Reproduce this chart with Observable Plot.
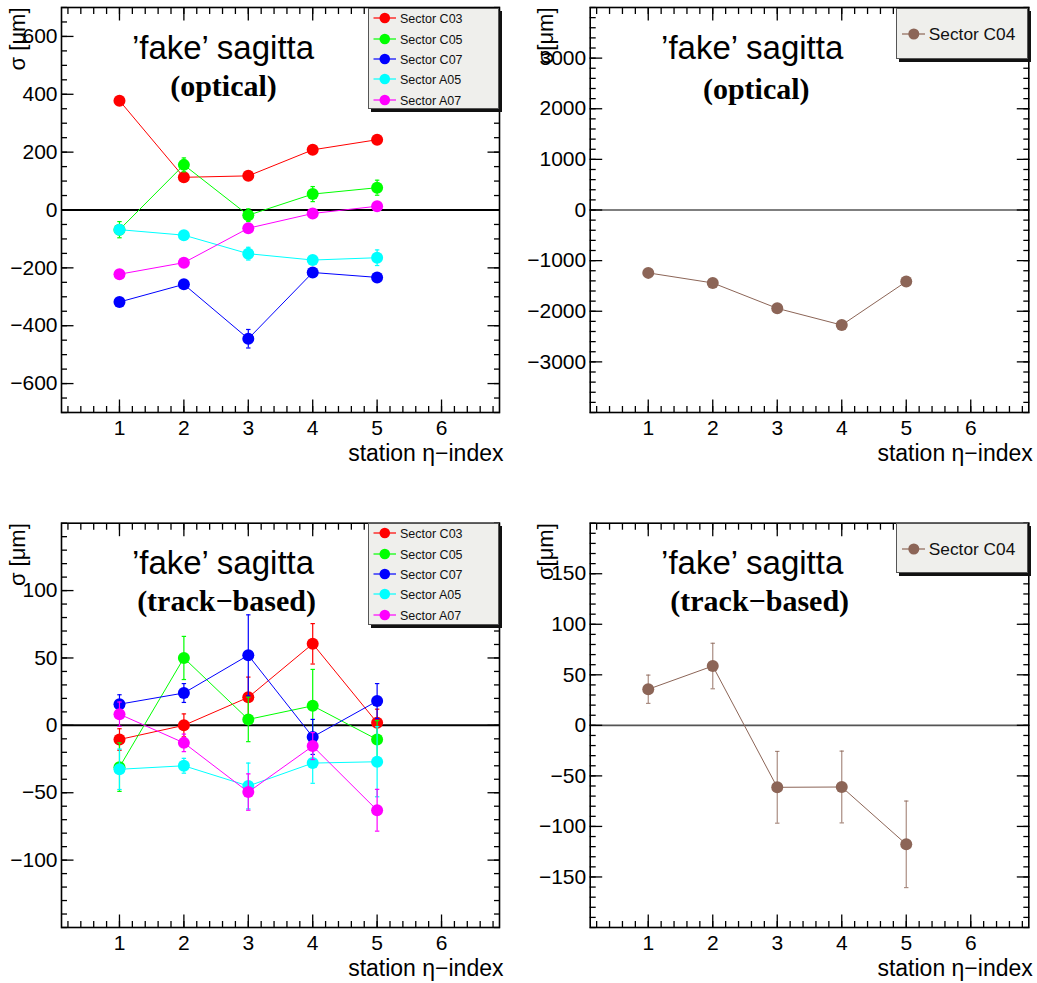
<!DOCTYPE html>
<html>
<head>
<meta charset="utf-8">
<script src="https://cdn.jsdelivr.net/npm/d3@7"></script>
<script src="https://cdn.jsdelivr.net/npm/@observablehq/plot@0.6"></script>
<style>
  html, body { margin: 0; padding: 0; background: #fff; }
  #root { position: relative; width: 1037px; height: 983px; overflow: hidden; font-family: "Liberation Sans", Arial, sans-serif; }
  .panel { position: absolute; }
  .panel svg { overflow: visible; display: block; }
  .legend { position: absolute; box-sizing: border-box; background: #efefec; border: 1px solid #555; box-shadow: 3px 3px 0 #111; }
</style>
</head>
<body>
<div id="root"></div>
<script>
// ---------------- data ----------------
const stations = [1, 2, 3, 4, 5];
const sectors = ["Sector C03", "Sector C05", "Sector C07", "Sector A05", "Sector A07"];
const sectorColors = ["#ff0000", "#00ff00", "#0000ff", "#00ffff", "#ff00ff"];
const singleSector = ["Sector C04"];
const singleColor = ["#8c6557"];

const xMajorTicks = [1, 2, 3, 4, 5, 6];

// optical alignment, sectors C03..A07 (μm)
const opticalC03 = [378, 113, 118, 208, 243];
const opticalC03Err = [6, 6, 6, 6, 6];
const opticalC05 = [-68, 156, -18, 55, 77];
const opticalC05Err = [28, 24, 22, 26, 26];
const opticalC07 = [-318, -257, -445, -216, -233];
const opticalC07Err = [8, 8, 32, 8, 8];
const opticalA05 = [-68, -87, -151, -173, -165];
const opticalA05Err = [8, 8, 22, 10, 27];
const opticalA07 = [-222, -182, -63, -12, 13];
const opticalA07Err = [8, 8, 8, 8, 12];

// track-based alignment, sectors C03..A07 (μm)
const trackC03 = [-10.5, 0, 20.8, 60.5, 2];
const trackC03Err = [8, 8.5, 15, 15, 10];
const trackC05 = [-31, 50, 4.4, 14.5, -10.5];
const trackC05Err = [18, 16, 16.5, 27, 14];
const trackC07 = [15.7, 24, 52, -8.6, 18];
const trackC07Err = [7, 7, 30, 13, 13];
const trackA05 = [-32.6, -30, -45, -28, -27];
const trackA05Err = [15, 5.5, 17, 15, 26];
const trackA07 = [8.3, -13, -49.5, -15.4, -63];
const trackA07Err = [9, 6.5, 13.5, 10, 15.5];

// sector C04
const c04Optical = [-1242, -1441, -1943, -2273, -1414];
const c04OpticalErr = [25, 25, 25, 25, 25];
const c04Track = [35.7, 58.7, -61.3, -61, -117.7];
const c04TrackErr = [14, 22.5, 35.5, 35.5, 42.8];

// y-axis ticks per panel
const yMajorOpticalMulti = [-600, -400, -200, 0, 200, 400, 600];
const yMajorOpticalC04 = [-3000, -2000, -1000, 0, 1000, 2000, 3000];
const yMajorTrackMulti = [-100, -50, 0, 50, 100];
const yMajorTrackC04 = [-150, -100, -50, 0, 50, 100, 150];

// ---------------- helpers ----------------
function rows(sector, values, errs) {
  return stations.map((s, i) => ({station: s, sector, v: values[i], e: errs[i]}));
}
const capSymbol = { draw(ctx) { ctx.moveTo(-2.2, 0); ctx.lineTo(2.2, 0); } };
const rangeStep = (a, b, s) => d3.range(Math.round((b - a) / s) + 1).map(i => +(a + i * s).toFixed(6));
const FONT = "Liberation Sans, Arial, sans-serif";
const SERIF = "Liberation Serif, Times New Roman, serif";
const intFormat = d3.format("d");

const root = document.getElementById("root");

function panel(cfg) {
  const marks = [];
  marks.push(Plot.ruleY([0], {stroke: cfg.zeroStroke, strokeWidth: cfg.zeroWidth}));
  cfg.series.forEach(([name, vals, errs]) => {
    const data = rows(name, vals, errs);
    marks.push(Plot.line(data, {x: "station", y: "v", stroke: "sector", strokeWidth: 1}));
    marks.push(Plot.ruleX(data, {x: "station", y1: d => d.v - d.e, y2: d => d.v + d.e, stroke: "sector", strokeWidth: 1.2, strokeOpacity: cfg.errOpacity}));
    marks.push(Plot.dot(data, {x: "station", y: d => d.v - d.e, symbol: capSymbol, stroke: "sector", strokeWidth: 1.2, strokeOpacity: cfg.errOpacity, r: 2}));
    marks.push(Plot.dot(data, {x: "station", y: d => d.v + d.e, symbol: capSymbol, stroke: "sector", strokeWidth: 1.2, strokeOpacity: cfg.errOpacity, r: 2}));
    marks.push(Plot.dot(data, {x: "station", y: "v", r: 6, fill: "sector", stroke: "none"}));
  });
  const xMinor = rangeStep(0.2, 6.8, 0.2);
  const yMinor = rangeStep(cfg.yDomain[0], cfg.yDomain[1], cfg.yMinorStep);
  const tk = {fill: "none", label: null, strokeWidth: 1.3, stroke: "#000"};
  marks.push(
    Plot.axisX(xMajorTicks, {anchor: "bottom", tickSize: 12.5, dy: -12.5, ...tk}),
    Plot.axisX(xMinor, {anchor: "bottom", tickSize: 6, dy: -6, ...tk}),
    Plot.axisX(xMajorTicks, {anchor: "top", tickSize: 12.5, dy: 12.5, ...tk}),
    Plot.axisX(xMinor, {anchor: "top", tickSize: 6, dy: 6, ...tk}),
    Plot.axisY(cfg.yMajor, {anchor: "left", tickSize: 12.5, dx: 12.5, ...tk}),
    Plot.axisY(yMinor, {anchor: "left", tickSize: 6, dx: 6, ...tk}),
    Plot.axisY(cfg.yMajor, {anchor: "right", tickSize: 12.5, dx: -12.5, ...tk}),
    Plot.axisY(yMinor, {anchor: "right", tickSize: 6, dx: -6, ...tk}),
    Plot.axisX(xMajorTicks, {anchor: "bottom", tickSize: 0, tickPadding: 8, fontSize: 21, fontFamily: FONT, label: null, fill: "#000", tickFormat: intFormat}),
    Plot.axisY(cfg.yMajor, {anchor: "left", tickSize: 0, tickPadding: 4, fontSize: 21, fontFamily: FONT, label: null, fill: "#000", tickFormat: intFormat}),
    Plot.frame({stroke: "#000", strokeWidth: 1.6}),
    Plot.text(["\u2019fake\u2019 sagitta"], {text: d => d, frameAnchor: "top-left", dx: cfg.titleDx, dy: cfg.titleBase - 0.71 * 33, fontSize: 33, fontFamily: FONT, textAnchor: "middle", lineAnchor: "top", fill: "#000"}),
    Plot.text([cfg.sub], {text: d => d, frameAnchor: "top-left", dx: cfg.subDx, dy: cfg.subBase - 0.68 * 30, fontSize: 30, fontWeight: "bold", fontFamily: SERIF, textAnchor: "middle", lineAnchor: "top", fill: "#000"}),
    Plot.text([cfg.yLabel], {text: d => d, frameAnchor: "top-left", dx: -52.5, dy: 0, rotate: -90, fontSize: 22, fontFamily: FONT, textAnchor: "end", lineAnchor: "top", fill: "#000"}),
    Plot.text(["station \u03b7\u2212index"], {text: d => d, frameAnchor: "bottom-right", dx: 4, dy: 48 - 0.71 * 23, fontSize: 23, fontFamily: FONT, textAnchor: "end", lineAnchor: "top", fill: "#000"})
  );
  const svg = Plot.plot({
    width: cfg.width, height: cfg.height,
    marginLeft: cfg.m[0], marginRight: cfg.m[1], marginTop: cfg.m[2], marginBottom: cfg.m[3],
    x: {domain: [0.1, 6.9]},
    y: {domain: cfg.yDomain},
    color: {domain: cfg.names, range: cfg.colors},
    style: {background: "transparent", overflow: "visible", fontFamily: FONT, color: "#000"},
    marks
  });
  const div = document.createElement("div");
  div.className = "panel";
  div.style.left = cfg.left + "px";
  div.style.top = cfg.top + "px";
  div.appendChild(svg);
  root.appendChild(div);
}

function legend({left, top, width, height, names, colors, firstY, step, fontSize, markerX, lineX0, lineX1, textX, r}) {
  const box = document.createElement("div");
  box.className = "legend";
  Object.assign(box.style, {left: left + "px", top: top + "px", width: width + "px", height: height + "px"});
  names.forEach((n, i) => {
    const cy = firstY + i * step;
    const ns = "http://www.w3.org/2000/svg";
    const s = document.createElementNS(ns, "svg");
    s.setAttribute("width", width); s.setAttribute("height", 20);
    s.style.position = "absolute"; s.style.left = "-1px"; s.style.top = (cy - 11) + "px"; s.style.overflow = "visible";
    const ln = document.createElementNS(ns, "line");
    ln.setAttribute("x1", lineX0); ln.setAttribute("x2", lineX1); ln.setAttribute("y1", 10); ln.setAttribute("y2", 10);
    ln.setAttribute("stroke", colors[i]); ln.setAttribute("stroke-width", 1.2);
    const c = document.createElementNS(ns, "circle");
    c.setAttribute("cx", markerX); c.setAttribute("cy", 10); c.setAttribute("r", r); c.setAttribute("fill", colors[i]);
    const t = document.createElementNS(ns, "text");
    t.setAttribute("x", textX); t.setAttribute("y", 10); t.setAttribute("dy", "0.36em");
    t.setAttribute("font-size", fontSize); t.setAttribute("font-family", FONT); t.setAttribute("fill", "#111");
    t.textContent = n;
    s.appendChild(ln); s.appendChild(c); s.appendChild(t);
    box.appendChild(s);
  });
  root.appendChild(box);
}

const multiOptical = [
  [sectors[0], opticalC03, opticalC03Err],
  [sectors[1], opticalC05, opticalC05Err],
  [sectors[2], opticalC07, opticalC07Err],
  [sectors[3], opticalA05, opticalA05Err],
  [sectors[4], opticalA07, opticalA07Err]
];
const multiTrack = [
  [sectors[0], trackC03, trackC03Err],
  [sectors[1], trackC05, trackC05Err],
  [sectors[2], trackC07, trackC07Err],
  [sectors[3], trackA05, trackA05Err],
  [sectors[4], trackA07, trackA07Err]
];

// top-left
panel({left: 0, top: 0, width: 520, height: 490, m: [61, 21, 7, 78],
  yDomain: [-700, 700], yMajor: yMajorOpticalMulti, yMinorStep: 50,
  series: multiOptical, names: sectors, colors: sectorColors, errOpacity: 1,
  zeroStroke: "#000", zeroWidth: 2,
  titleDx: 161.5, titleBase: 51, sub: "(optical)", subDx: 162, subBase: 88, yLabel: "\u03c3 [\u03bcm]"});
// top-right
panel({left: 520, top: 0, width: 517, height: 490, m: [69.7, 8.7, 7, 78],
  yDomain: [-4000, 4000], yMajor: yMajorOpticalC04, yMinorStep: 200,
  series: [[singleSector[0], c04Optical, c04OpticalErr]], names: singleSector, colors: singleColor, errOpacity: 0.75,
  zeroStroke: "#555", zeroWidth: 1.6,
  titleDx: 162, titleBase: 51, sub: "(optical)", subDx: 166, subBase: 91, yLabel: "\u03c3[\u03bcm]"});
// bottom-left
panel({left: 0, top: 510, width: 520, height: 473, m: [61, 21, 12.7, 56],
  yDomain: [-150, 150], yMajor: yMajorTrackMulti, yMinorStep: 10,
  series: multiTrack, names: sectors, colors: sectorColors, errOpacity: 1,
  zeroStroke: "#000", zeroWidth: 2,
  titleDx: 161.5, titleBase: 50.3, sub: "(track\u2212based)", subDx: 165, subBase: 87.3, yLabel: "\u03c3 [\u03bcm]"});
// bottom-right
panel({left: 520, top: 510, width: 517, height: 473, m: [69.7, 8.7, 12.7, 56],
  yDomain: [-200, 200], yMajor: yMajorTrackC04, yMinorStep: 10,
  series: [[singleSector[0], c04Track, c04TrackErr]], names: singleSector, colors: singleColor, errOpacity: 0.75,
  zeroStroke: "#555", zeroWidth: 1.6,
  titleDx: 162, titleBase: 50.3, sub: "(track\u2212based)", subDx: 169.5, subBase: 87.3, yLabel: "\u03c3[\u03bcm]"});

// legends
legend({left: 367.7, top: 8, width: 131.3, height: 101, names: sectors, colors: sectorColors,
  firstY: 10.2, step: 20.4, fontSize: 12.5, markerX: 16.8, lineX0: 5.5, lineX1: 28, textX: 32, r: 5.3});
legend({left: 367.7, top: 522.7, width: 131.3, height: 102.3, names: sectors, colors: sectorColors,
  firstY: 10.5, step: 20.4, fontSize: 12.5, markerX: 16.8, lineX0: 5.5, lineX1: 28, textX: 32, r: 5.3});
legend({left: 896, top: 8, width: 132.3, height: 51, names: singleSector, colors: singleColor,
  firstY: 25.8, step: 0, fontSize: 17.3, markerX: 17.8, lineX0: 6, lineX1: 29, textX: 32.8, r: 5.5});
legend({left: 896, top: 523.3, width: 132.3, height: 50, names: singleSector, colors: singleColor,
  firstY: 26.2, step: 0, fontSize: 17.3, markerX: 17.8, lineX0: 6, lineX1: 29, textX: 32.8, r: 5.5});
</script>
</body>
</html>
